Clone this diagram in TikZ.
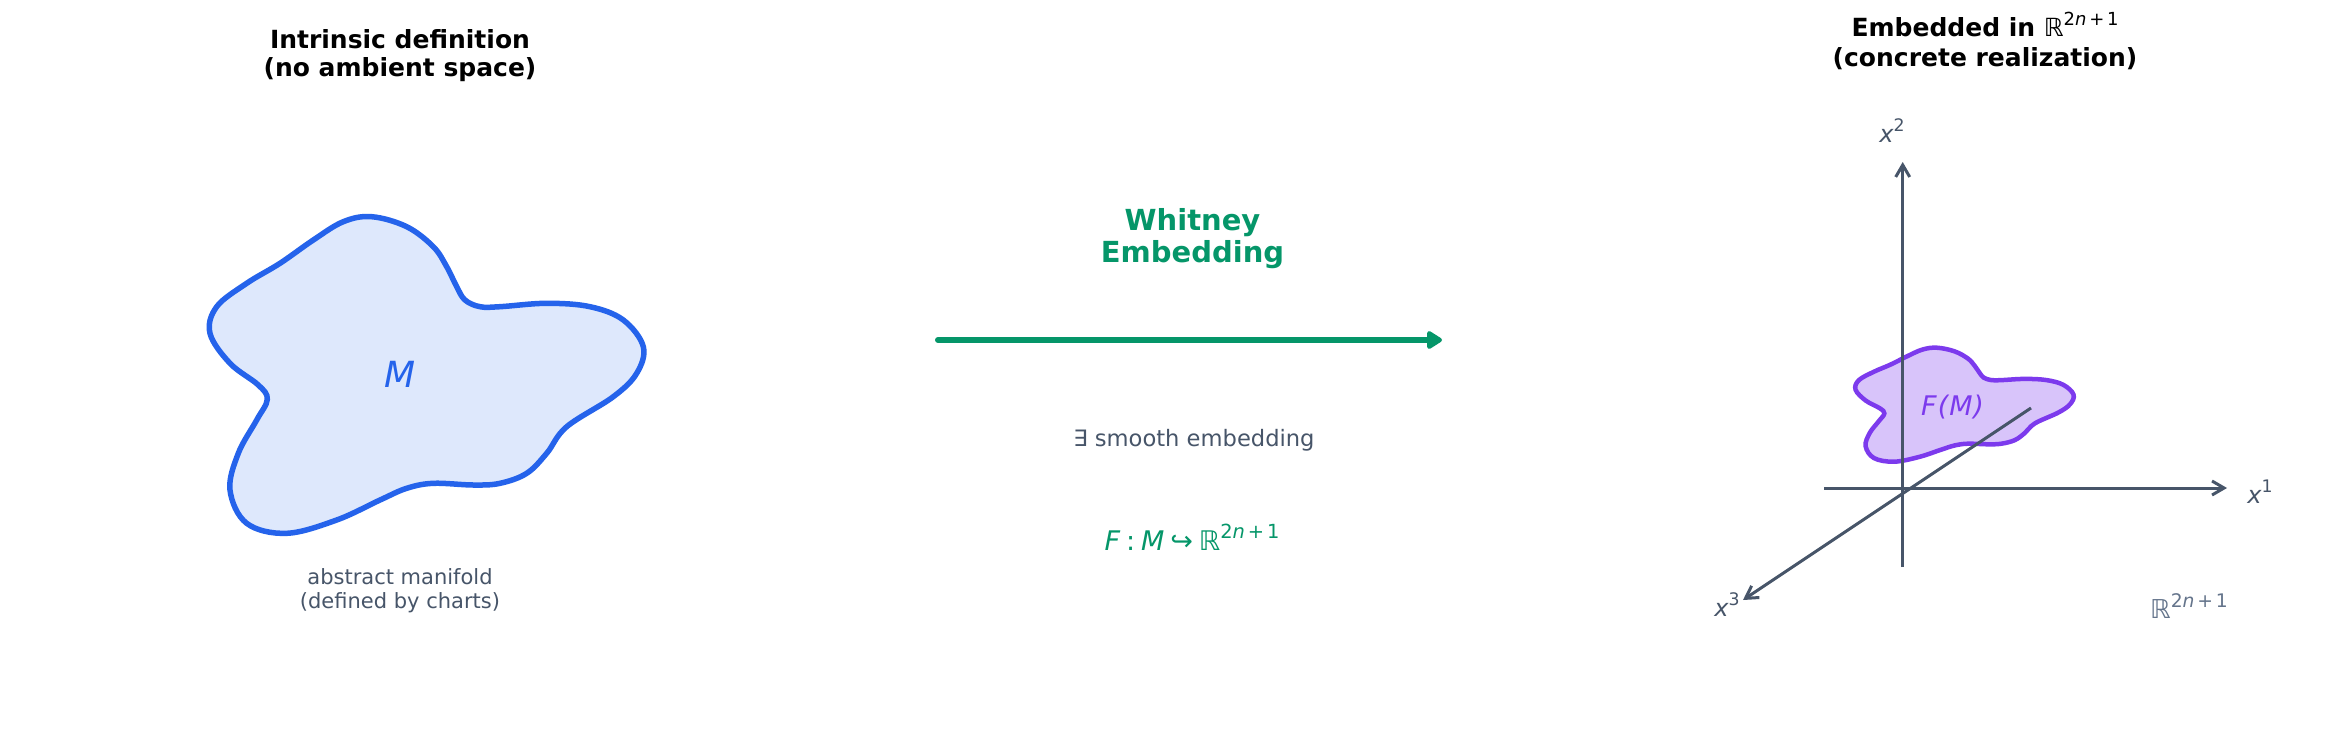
\documentclass[tikz,border=0pt]{standalone}
\usepackage{fontspec}
\setmainfont{DejaVu Sans}
\usetikzlibrary{arrows.meta}
\definecolor{mblue}{HTML}{2563EB}
\definecolor{mpurple}{HTML}{7C3AED}
\definecolor{mgreen}{HTML}{059669}
\definecolor{slate}{HTML}{475569}
\definecolor{slatelight}{HTML}{64748B}
\newcommand\fsz[2]{\fontsize{#1}{#2}\selectfont}
\newcommand\upsc[1]{\raisebox{0.42em}{\scalebox{0.72}{#1}}}
\newcommand\blobpath{plot[smooth cycle, tension=0.6] coordinates {
(371.7,216.7) (406.7,226.7) (433.3,246.7) (446.7,266.7) (456.7,286.7) (465,300) (480,306.7) (500,306.7)
(546.7,303.3) (590,306.7) (623.3,320) (643.3,346.7) (636.7,373.3) (613.3,396.7) (566.7,426.7)
(546.7,453.3) (526.7,473.3) (500,483.3) (473.3,485) (433.3,483.3) (406.7,488.3) (380,500)
(336.7,520) (286.7,533.3) (246.7,523.3) (230,490) (238.3,453.3) (256.7,420) (267.3,399.3)
(258.3,385) (230,363.3) (210,333.3) (216.7,306.7) (246.7,283.3) (280,263.3) (313.3,240) (343.3,221.7)}}
\tikzset{
  titletext/.style={font=\bfseries\fsz{25}{28}, align=center, inner sep=0pt, anchor=base},
  plaintext/.style={inner sep=0pt, anchor=base},
  axisline/.style={draw=slate, line width=3pt, -{Straight Barb[length=12pt,width=14pt,line width=3pt]}},
  mainarrow/.style={draw=mgreen, line width=6pt, line cap=round, -{Triangle[length=17pt,width=20pt,round]}},
}
\begin{document}
\begin{tikzpicture}[x=1pt,y=-1pt]
\useasboundingbox (0,0) rectangle (2328,750);
\fill[white] (0,0) rectangle (2328,750);

% titles (anchor = baseline of last line)
\node[titletext] (t1) at (400,76) {Intrinsic definition\\(no ambient space)};
\node[titletext] (t2) at (1985,66) {Embedded in {\mdseries ℝ\upsc{2{\itshape n}\hspace{0.15em}+\hspace{0.15em}1}}\\[2pt](concrete realization)};

% abstract manifold
\draw[draw=mblue, fill=mblue!15!white, line width=5.5pt] \blobpath;
\node[plaintext, font=\itshape\fsz{36}{40}, text=mblue] (mlab) at (400,387) {M};
\node[plaintext, font=\fsz{21}{24}, text=slate, align=center] (mcap) at (400,608) {abstract manifold\\(defined by charts)};

% Whitney arrow
\node[plaintext, font=\bfseries\fsz{29}{32}, text=mgreen, align=center] (wlab) at (1192.5,262) {Whitney\\Embedding};
\coordinate (a0) at (938,340);
\coordinate (a1) at (1442,340);
\draw[mainarrow] (a0) -- (a1);
\node[plaintext, font=\fsz{22.6}{27}, text=slate] (exlab) at (1194,446) {∃ smooth embedding};
\node[plaintext, font=\fsz{27}{32}, text=mgreen] (flab) at (1192,550)
  {{\itshape F}\hspace{0.22em}:\hspace{0.22em}{\itshape M}\hspace{0.22em}↪\hspace{0.22em}ℝ\upsc{2{\itshape n}\hspace{0.15em}+\hspace{0.15em}1}};

% embedded image
\begin{scope}[shift={(1749.9,269.7)}, xscale=0.503, yscale=0.36]
\draw[draw=mpurple, fill=mpurple!30!white, line width=4.5pt] \blobpath;
\end{scope}

% axes
\coordinate (x1s) at (1824,488);
\coordinate (x1e) at (2227,488);
\coordinate (x2s) at (1902.7,567);
\coordinate (x2e) at (1902.7,162);
\coordinate (x3s) at (2031,408);
\coordinate (x3e) at (1743,600);
\draw[axisline] (x1s) -- (x1e);
\draw[axisline] (x2s) -- (x2e);
\draw[axisline] (x3s) -- (x3e);

\node[plaintext, font=\itshape\fsz{27}{32}, text=mpurple] (fmlab) at (1952.5,415) {F\hspace{0.05em}(\hspace{0.03em}M\hspace{0.03em})};
\node[plaintext, font=\fsz{24}{28}, text=slate] (l1) at (2260,503) {{\itshape x}\upsc{1}};
\node[plaintext, font=\fsz{24}{28}, text=slate] (l2) at (1892,142) {{\itshape x}\upsc{2}};
\node[plaintext, font=\fsz{24}{28}, text=slate] (l3) at (1727,616) {{\itshape x}\upsc{3}};
\node[plaintext, font=\fsz{26}{30}, text=slatelight] (rlab) at (2189,618) {ℝ\upsc{2{\itshape n}\hspace{0.15em}+\hspace{0.15em}1}};
\end{tikzpicture}
\end{document}
